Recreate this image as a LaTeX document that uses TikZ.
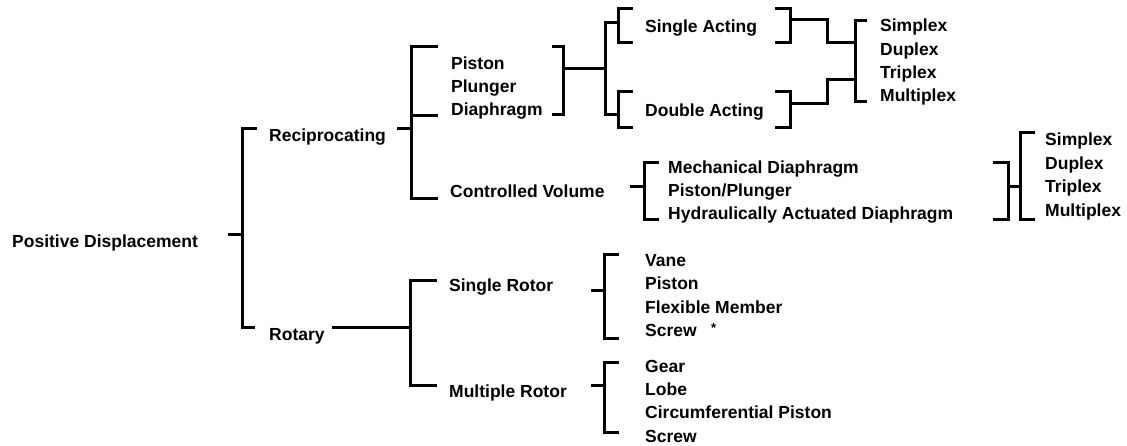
\documentclass[tikz,border=0pt]{standalone}
\usepackage{fontspec}
\setmainfont{Liberation Sans}
\begin{document}
\begin{tikzpicture}[x=1pt,y=-1pt,
  txt/.style={anchor=base west, inner sep=0pt, font=\fontsize{17.5}{21}\selectfont\bfseries},
  ast/.style={anchor=base west, inner sep=0pt, font=\fontsize{13}{15}\selectfont\bfseries},
  ln/.style={line width=3pt, line join=miter, line cap=butt}]
\useasboundingbox (0,0) rectangle (1127,446);

% ---------- texts ----------
\node[txt] (pd)  at (12,248) {Positive Displacement};
\node[txt] (rec) at (269,142) {Reciprocating};
\node[txt] (rot) at (269,340) {Rotary};
\node[txt] (pis) at (451,70) {Piston};
\node[txt] (plu) at (451,93) {Plunger};
\node[txt] (dia) at (451,116) {Diaphragm};
\node[txt] (cv)  at (450,198) {Controlled Volume};
\node[txt] (sa)  at (645,33) {Single Acting};
\node[txt] (da)  at (645,117) {Double Acting};
\node[txt] (sx1) at (880,32) {Simplex};
\node[txt] (dx1) at (880,55.5) {Duplex};
\node[txt] (tx1) at (880,79) {Triplex};
\node[txt] (mx1) at (880,102) {Multiplex};
\node[txt] (md)  at (668,174) {Mechanical Diaphragm};
\node[txt] (pp)  at (668,197) {Piston/Plunger};
\node[txt] (had) at (668,220) {Hydraulically Actuated Diaphragm};
\node[txt] (sx2) at (1045,146) {Simplex};
\node[txt] (dx2) at (1045,169.5) {Duplex};
\node[txt] (tx2) at (1045,193) {Triplex};
\node[txt] (mx2) at (1045,216.5) {Multiplex};
\node[txt] (sr)  at (449,292) {Single Rotor};
\node[txt] (mr)  at (449,397) {Multiple Rotor};
\node[txt] (van) at (645,267) {Vane};
\node[txt] (pst) at (645,290) {Piston};
\node[txt] (flx) at (645,314) {Flexible Member};
\node[txt] (scr) at (645,337) {Screw};
\node[ast] (star) at (711,333) {*};
\node[txt] (gea) at (645,372) {Gear};
\node[txt] (lob) at (645,395) {Lobe};
\node[txt] (cir) at (645,418) {Circumferential Piston};
\node[txt] (scw) at (645,442) {Screw};

% ---------- junction coordinates ----------
\coordinate (pdT)  at (228,235);
\coordinate (mainS) at (242,235);
\coordinate (recT) at (397,129);
\coordinate (recS) at (411,129);
\coordinate (ppdJ) at (563,69);
\coordinate (actS) at (605,69);
\coordinate (saJ)  at (790,20);
\coordinate (daJ)  at (790,104);
\coordinate (cvT)  at (630,187);
\coordinate (cvS)  at (644,187);
\coordinate (cvJ)  at (1008,187);
\coordinate (cvX)  at (1020,187);
\coordinate (rotT) at (332,327);
\coordinate (rotS) at (410,327);
\coordinate (srT)  at (591,291);
\coordinate (srS)  at (604,291);
\coordinate (mrT)  at (591,385);
\coordinate (mrS)  at (604,385);

% ---------- Positive Displacement ----------
\draw[ln] (pdT) -- (mainS);
\draw[ln] (257,129) -- (242,129) -- (242,327) -- (255,327);

% ---------- Reciprocating ----------
\draw[ln] (recT) -- (recS);
\draw[ln] (438,47) -- (411,47) -- (411,199) -- (438,199);
\draw[ln] (411,116) -- (438,116);

% Piston / Plunger / Diaphragm closing bracket
\draw[ln] (552,47) -- (563,47) -- (563,115) -- (552,115);
\draw[ln] (ppdJ) -- (actS);
\draw[ln] (618,23) -- (605,23) -- (605,115) -- (618,115);

% Single / Double acting brackets
\draw[ln] (633,9) -- (618,9) -- (618,43) -- (633,43);
\draw[ln] (633,92) -- (618,92) -- (618,128) -- (633,128);
\draw[ln] (775,9) -- (790,9) -- (790,43) -- (775,43);
\draw[ln] (775,92) -- (790,92) -- (790,128) -- (775,128);
\draw[ln] (saJ) -- (827,20) -- (827,43) -- (855,43);
\draw[ln] (daJ) -- (827,104) -- (827,80) -- (855,80);
\draw[ln] (867,21) -- (855,21) -- (855,102) -- (867,102);

% ---------- Controlled Volume ----------
\draw[ln] (cvT) -- (cvS);
\draw[ln] (659,163) -- (644,163) -- (644,220) -- (659,220);
\draw[ln] (993,163) -- (1008,163) -- (1008,220) -- (993,220);
\draw[ln] (cvJ) -- (cvX);
\draw[ln] (1035,133) -- (1020,133) -- (1020,220) -- (1035,220);

% ---------- Rotary ----------
\draw[ln] (rotT) -- (rotS);
\draw[ln] (437,281) -- (410,281) -- (410,385) -- (437,385);
\draw[ln] (srT) -- (srS);
\draw[ln] (619,255) -- (604,255) -- (604,338) -- (619,338);
\draw[ln] (mrT) -- (mrS);
\draw[ln] (619,362) -- (604,362) -- (604,432) -- (619,432);
\end{tikzpicture}
\end{document}
